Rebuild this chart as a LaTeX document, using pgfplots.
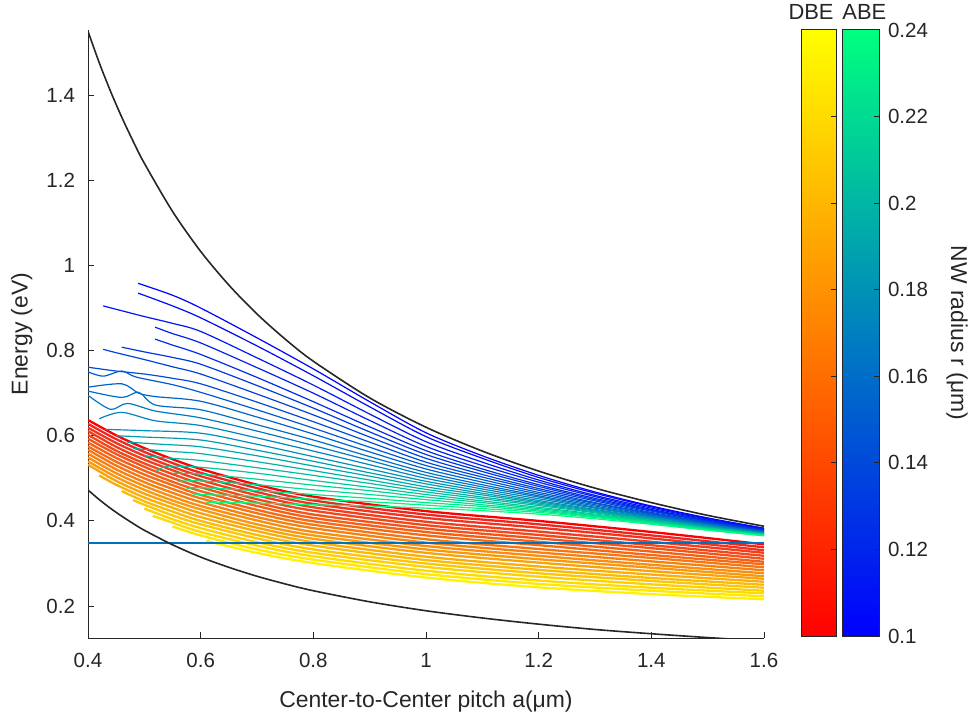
\documentclass[border=0pt]{standalone}
\usepackage{fontspec}
\setmainfont{Liberation Sans}
\usepackage{pgfplots}
\pgfplotsset{compat=1.18}
\definecolor{wA}{rgb}{0,0,1}
\definecolor{wB}{rgb}{0,1,0.5}
\definecolor{mlgray}{rgb}{0.15,0.15,0.15}
\definecolor{refline}{HTML}{0072BD}
\pgfplotsset{
  abe/.style={smooth, line width=0.6pt},
  dbe/.style={smooth, line width=1.15pt},
}
\begin{document}
\begin{tikzpicture}
\path[use as bounding box] (-44bp,-40bp) rectangle (442bp,319bp);
\begin{axis}[
  at={(0,0)}, anchor=south west, scale only axis, width=338bp, height=304bp,
  xmin=0.4, xmax=1.6, ymin=0.125, ymax=1.553,
  axis lines=left, axis line style={-, mlgray, line width=0.5pt},
  tick align=inside, major tick length=3bp, tick style={mlgray, line width=0.5pt},
  xtick={0.4,0.6,0.8,1.0,1.2,1.4,1.6}, ytick={0.2,0.4,0.6,0.8,1.0,1.2,1.4},
  xticklabels={0.4,0.6,0.8,1,1.2,1.4,1.6}, yticklabels={0.2,0.4,0.6,0.8,1,1.2,1.4},
  ticklabel style={font=\fontsize{10.3}{12}\selectfont, text=mlgray},
  xticklabel style={yshift=-4bp}, yticklabel style={xshift=-3bp},
  xlabel={Center-to-Center pitch a(μm)}, ylabel={Energy (eV)},
  label style={font=\fontsize{11.5}{13}\selectfont, text=mlgray},
  xlabel style={at={(axis description cs:0.5,-0.105)}, anchor=center},
  ylabel style={at={(axis description cs:-0.098,0.5)}, anchor=center},
]
% ---------------- DBE (red -> yellow) ----------------
\addplot[dbe, color=yellow!0!red] coordinates {(0.4,0.637)(0.45,0.601)(0.5,0.571)(0.55,0.545)(0.6,0.522)(0.7,0.485)(0.8,0.457)(1.0,0.423)(1.2,0.400)(1.4,0.374)(1.6,0.345)};
\addplot[dbe, color=yellow!5!red] coordinates {(0.4,0.628)(0.45,0.592)(0.5,0.562)(0.55,0.536)(0.6,0.513)(0.7,0.477)(0.8,0.448)(1.0,0.415)(1.2,0.392)(1.4,0.366)(1.6,0.338)};
\addplot[dbe, color=yellow!11!red] coordinates {(0.4,0.619)(0.45,0.583)(0.5,0.553)(0.55,0.527)(0.6,0.505)(0.7,0.468)(0.8,0.440)(1.0,0.407)(1.2,0.384)(1.4,0.359)(1.6,0.331)};
\addplot[dbe, color=yellow!16!red] coordinates {(0.4,0.611)(0.45,0.574)(0.5,0.544)(0.55,0.519)(0.6,0.496)(0.7,0.460)(0.8,0.432)(1.0,0.398)(1.2,0.375)(1.4,0.351)(1.6,0.325)};
\addplot[dbe, color=yellow!21!red] coordinates {(0.4,0.602)(0.45,0.565)(0.5,0.535)(0.55,0.510)(0.6,0.487)(0.7,0.451)(0.8,0.424)(1.0,0.390)(1.2,0.367)(1.4,0.343)(1.6,0.318)};
\addplot[dbe, color=yellow!26!red] coordinates {(0.4,0.593)(0.45,0.557)(0.5,0.527)(0.55,0.501)(0.6,0.479)(0.7,0.443)(0.8,0.415)(1.0,0.382)(1.2,0.359)(1.4,0.336)(1.6,0.311)};
\addplot[dbe, color=yellow!32!red] coordinates {(0.4,0.584)(0.45,0.548)(0.5,0.518)(0.55,0.492)(0.6,0.470)(0.7,0.435)(0.8,0.407)(1.0,0.374)(1.2,0.351)(1.4,0.328)(1.6,0.304)};
\addplot[dbe, color=yellow!37!red] coordinates {(0.4,0.575)(0.45,0.539)(0.5,0.509)(0.55,0.484)(0.6,0.461)(0.7,0.426)(0.8,0.399)(1.0,0.366)(1.2,0.343)(1.4,0.320)(1.6,0.298)};
\addplot[dbe, color=yellow!42!red] coordinates {(0.4,0.567)(0.45,0.530)(0.5,0.500)(0.55,0.475)(0.6,0.453)(0.7,0.418)(0.8,0.391)(1.0,0.357)(1.2,0.334)(1.4,0.313)(1.6,0.291)};
\addplot[dbe, color=yellow!47!red] coordinates {(0.4,0.558)(0.45,0.521)(0.5,0.491)(0.55,0.466)(0.6,0.444)(0.7,0.409)(0.8,0.383)(1.0,0.349)(1.2,0.326)(1.4,0.305)(1.6,0.284)};
\addplot[dbe, color=yellow!53!red] coordinates {(0.4,0.549)(0.45,0.512)(0.5,0.482)(0.55,0.457)(0.6,0.435)(0.7,0.401)(0.8,0.374)(1.0,0.341)(1.2,0.318)(1.4,0.297)(1.6,0.277)};
\addplot[dbe, color=yellow!58!red] coordinates {(0.4,0.540)(0.45,0.503)(0.5,0.473)(0.55,0.448)(0.6,0.427)(0.7,0.392)(0.8,0.366)(1.0,0.333)(1.2,0.310)(1.4,0.290)(1.6,0.270)};
\addplot[dbe, color=yellow!63!red] coordinates {(0.4,0.532)(0.45,0.494)(0.5,0.464)(0.55,0.440)(0.6,0.418)(0.7,0.384)(0.8,0.358)(1.0,0.325)(1.2,0.302)(1.4,0.282)(1.6,0.264)};
\addplot[dbe, color=yellow!68!red] coordinates {(0.42,0.507)(0.45,0.485)(0.5,0.455)(0.55,0.431)(0.6,0.409)(0.7,0.376)(0.8,0.350)(1.0,0.316)(1.2,0.293)(1.4,0.274)(1.6,0.257)};
\addplot[dbe, color=yellow!74!red] coordinates {(0.46,0.470)(0.5,0.446)(0.55,0.422)(0.6,0.400)(0.7,0.367)(0.8,0.342)(1.0,0.308)(1.2,0.285)(1.4,0.266)(1.6,0.250)};
\addplot[dbe, color=yellow!79!red] coordinates {(0.48,0.449)(0.5,0.438)(0.55,0.413)(0.6,0.392)(0.7,0.359)(0.8,0.333)(1.0,0.300)(1.2,0.277)(1.4,0.259)(1.6,0.243)};
\addplot[dbe, color=yellow!84!red] coordinates {(0.5,0.429)(0.55,0.404)(0.6,0.383)(0.7,0.350)(0.8,0.325)(1.0,0.292)(1.2,0.269)(1.4,0.251)(1.6,0.236)};
\addplot[dbe, color=yellow!89!red] coordinates {(0.515,0.412)(0.55,0.396)(0.6,0.374)(0.7,0.342)(0.8,0.317)(1.0,0.283)(1.2,0.260)(1.4,0.243)(1.6,0.230)};
\addplot[dbe, color=yellow!95!red] coordinates {(0.55,0.387)(0.6,0.366)(0.7,0.333)(0.8,0.309)(1.0,0.275)(1.2,0.252)(1.4,0.236)(1.6,0.223)};
\addplot[dbe, color=yellow!100!red] coordinates {(0.61,0.353)(0.7,0.325)(0.8,0.301)(1.0,0.267)(1.2,0.244)(1.4,0.228)(1.6,0.216)};
% ---------------- ABE (blue -> green) ----------------
\addplot[abe, color=wB!0!wA] coordinates {(0.489,0.958)(0.55,0.930)(0.6,0.900)(0.7,0.830)(0.8,0.757)(0.9,0.680)(1.0,0.607)(1.1,0.553)(1.2,0.507)(1.3,0.468)(1.4,0.435)(1.5,0.407)(1.6,0.383)};
\addplot[abe, color=wB!4!wA] coordinates {(0.489,0.935)(0.55,0.905)(0.6,0.877)(0.7,0.811)(0.8,0.741)(0.9,0.668)(1.0,0.598)(1.1,0.547)(1.2,0.502)(1.3,0.465)(1.4,0.433)(1.5,0.406)(1.6,0.382)};
\addplot[abe, color=wB!9!wA] coordinates {(0.427,0.905)(0.45,0.897)(0.5,0.880)(0.55,0.864)(0.6,0.845)(0.7,0.783)(0.8,0.719)(0.9,0.651)(1.0,0.586)(1.1,0.538)(1.2,0.496)(1.3,0.460)(1.4,0.430)(1.5,0.404)(1.6,0.381)};
\addplot[abe, color=wB!13!wA] coordinates {(0.519,0.855)(0.55,0.840)(0.6,0.818)(0.7,0.760)(0.8,0.700)(0.9,0.636)(1.0,0.575)(1.1,0.530)(1.2,0.491)(1.3,0.457)(1.4,0.427)(1.5,0.402)(1.6,0.380)};
\addplot[abe, color=wB!17!wA] coordinates {(0.519,0.827)(0.55,0.813)(0.6,0.791)(0.7,0.737)(0.8,0.680)(0.9,0.621)(1.0,0.565)(1.1,0.522)(1.2,0.485)(1.3,0.453)(1.4,0.425)(1.5,0.400)(1.6,0.379)};
\addplot[abe, color=wB!22!wA] coordinates {(0.46,0.808)(0.5,0.797)(0.55,0.784)(0.6,0.768)(0.7,0.718)(0.8,0.665)(0.9,0.609)(1.0,0.556)(1.1,0.516)(1.2,0.481)(1.3,0.450)(1.4,0.423)(1.5,0.399)(1.6,0.378)};
\addplot[abe, color=wB!26!wA] coordinates {(0.427,0.803)(0.45,0.795)(0.5,0.779)(0.55,0.762)(0.6,0.745)(0.7,0.698)(0.8,0.649)(0.9,0.597)(1.0,0.547)(1.1,0.509)(1.2,0.476)(1.3,0.447)(1.4,0.420)(1.5,0.397)(1.6,0.377)};
\addplot[abe, color=wB!30!wA] coordinates {(0.4,0.761)(0.45,0.752)(0.5,0.745)(0.55,0.735)(0.6,0.722)(0.7,0.679)(0.8,0.633)(0.9,0.585)(1.0,0.538)(1.1,0.503)(1.2,0.472)(1.3,0.443)(1.4,0.418)(1.5,0.396)(1.6,0.376)};
\addplot[abe, color=wB!35!wA] coordinates {(0.4,0.750)(0.427,0.740)(0.46,0.752)(0.485,0.738)(0.55,0.720)(0.6,0.702)(0.7,0.661)(0.8,0.618)(0.9,0.573)(1.0,0.530)(1.1,0.497)(1.2,0.467)(1.3,0.441)(1.4,0.416)(1.5,0.394)(1.6,0.375)};
\addplot[abe, color=wB!39!wA] coordinates {(0.4,0.714)(0.46,0.722)(0.49,0.700)(0.52,0.692)(0.6,0.681)(0.7,0.644)(0.8,0.604)(0.9,0.562)(1.0,0.522)(1.1,0.491)(1.2,0.463)(1.3,0.438)(1.4,0.414)(1.5,0.393)(1.6,0.374)};
\addplot[abe, color=wB!43!wA] coordinates {(0.4,0.705)(0.46,0.690)(0.49,0.702)(0.52,0.672)(0.6,0.661)(0.7,0.626)(0.8,0.590)(0.9,0.551)(1.0,0.514)(1.1,0.485)(1.2,0.459)(1.3,0.435)(1.4,0.412)(1.5,0.392)(1.6,0.374)};
\addplot[abe, color=wB!48!wA] coordinates {(0.4,0.695)(0.44,0.662)(0.47,0.676)(0.52,0.658)(0.6,0.642)(0.7,0.611)(0.8,0.577)(0.9,0.542)(1.0,0.507)(1.1,0.480)(1.2,0.456)(1.3,0.432)(1.4,0.411)(1.5,0.391)(1.6,0.373)};
\addplot[abe, color=wB!52!wA] coordinates {(0.42,0.640)(0.46,0.655)(0.52,0.635)(0.6,0.624)(0.7,0.595)(0.8,0.564)(0.9,0.532)(1.0,0.500)(1.1,0.475)(1.2,0.452)(1.3,0.430)(1.4,0.409)(1.5,0.390)(1.6,0.372)};
\addplot[abe, color=wB!57!wA] coordinates {(0.43,0.615)(0.5,0.612)(0.6,0.606)(0.7,0.580)(0.8,0.551)(0.9,0.522)(1.0,0.493)(1.1,0.470)(1.2,0.448)(1.3,0.427)(1.4,0.407)(1.5,0.388)(1.6,0.371)};
\addplot[abe, color=wB!61!wA] coordinates {(0.45,0.600)(0.5,0.597)(0.6,0.590)(0.7,0.566)(0.8,0.540)(0.9,0.513)(1.0,0.487)(1.1,0.465)(1.2,0.445)(1.3,0.425)(1.4,0.406)(1.5,0.387)(1.6,0.371)};
\addplot[abe, color=wB!65!wA] coordinates {(0.47,0.585)(0.53,0.580)(0.6,0.574)(0.7,0.553)(0.8,0.529)(0.9,0.505)(1.0,0.480)(1.1,0.461)(1.2,0.442)(1.3,0.423)(1.4,0.404)(1.5,0.386)(1.6,0.370)};
\addplot[abe, color=wB!70!wA] coordinates {(0.48,0.570)(0.55,0.563)(0.6,0.558)(0.7,0.539)(0.8,0.518)(0.9,0.496)(1.0,0.474)(1.1,0.456)(1.2,0.439)(1.3,0.421)(1.4,0.403)(1.5,0.385)(1.6,0.370)};
\addplot[abe, color=wB!74!wA] coordinates {(0.5,0.553)(0.55,0.547)(0.6,0.542)(0.7,0.525)(0.8,0.507)(0.9,0.488)(1.0,0.468)(1.1,0.452)(1.2,0.436)(1.3,0.419)(1.4,0.401)(1.5,0.384)(1.6,0.369)};
\addplot[abe, color=wB!78!wA] coordinates {(0.52,0.515)(0.54,0.528)(0.6,0.526)(0.7,0.512)(0.8,0.495)(0.9,0.479)(1.0,0.462)(1.1,0.447)(1.2,0.432)(1.3,0.416)(1.4,0.400)(1.5,0.383)(1.6,0.368)};
\addplot[abe, color=wB!83!wA] coordinates {(0.55,0.512)(0.6,0.510)(0.7,0.498)(0.8,0.484)(0.9,0.471)(1.0,0.456)(1.1,0.443)(1.2,0.429)(1.3,0.414)(1.4,0.398)(1.5,0.382)(1.6,0.368)};
\addplot[abe, color=wB!87!wA] coordinates {(0.56,0.493)(0.6,0.494)(0.7,0.485)(0.8,0.473)(0.9,0.462)(1.0,0.450)(1.1,0.438)(1.2,0.426)(1.3,0.412)(1.4,0.397)(1.5,0.381)(1.6,0.367)};
\addplot[abe, color=wB!91!wA] coordinates {(0.575,0.476)(0.6,0.478)(0.7,0.471)(0.8,0.462)(0.9,0.453)(1.0,0.443)(1.1,0.434)(1.2,0.423)(1.3,0.410)(1.4,0.395)(1.5,0.380)(1.6,0.366)};
\addplot[abe, color=wB!96!wA] coordinates {(0.585,0.464)(0.6,0.462)(0.7,0.458)(0.8,0.451)(0.9,0.445)(1.0,0.437)(1.1,0.429)(1.2,0.420)(1.3,0.408)(1.4,0.394)(1.5,0.379)(1.6,0.366)};
\addplot[abe, color=wB!100!wA] coordinates {(0.61,0.444)(0.7,0.442)(0.8,0.438)(0.9,0.435)(1.0,0.430)(1.1,0.424)(1.2,0.416)(1.3,0.405)(1.4,0.392)(1.5,0.378)(1.6,0.365)};
% horizontal reference line
\addplot[draw=refline, line width=1pt] coordinates {(0.4,0.347)(0.8,0.347)(1.2,0.347)(1.6,0.347)};
% ---------------- bounding curves ----------------
\addplot[smooth, color=mlgray, line width=0.8pt] coordinates {(0.40,1.550)(0.42,1.476)(0.44,1.409)(0.46,1.348)(0.48,1.292)(0.50,1.240)(0.55,1.127)(0.60,1.033)(0.65,0.954)(0.70,0.886)(0.75,0.827)(0.80,0.775)(0.90,0.689)(1.00,0.620)(1.10,0.564)(1.20,0.517)(1.30,0.477)(1.40,0.443)(1.50,0.413)(1.60,0.3875)};
\addplot[smooth, color=mlgray, line width=0.8pt] coordinates {(0.40,0.4725)(0.42,0.450)(0.44,0.4295)(0.46,0.411)(0.48,0.394)(0.50,0.378)(0.55,0.344)(0.60,0.315)(0.65,0.291)(0.70,0.270)(0.75,0.252)(0.80,0.236)(0.90,0.210)(1.00,0.189)(1.10,0.172)(1.20,0.1575)(1.30,0.145)(1.40,0.135)(1.50,0.126)(1.60,0.118)};
\end{axis}
% ---------------- colorbar DBE ----------------
\begin{axis}[
  at={(356.5bp,1bp)}, anchor=south west, scale only axis, width=17.5bp, height=303bp,
  xmin=0, xmax=1, ymin=0.1, ymax=0.24, axis on top,
  xtick=\empty, ytick={0.1,0.12,0.14,0.16,0.18,0.2,0.22,0.24}, yticklabels={},
  ytick pos=right, tick align=inside, major tick length=2.5bp,
  tick style={mlgray, line width=0.5pt}, axis line style={mlgray, line width=0.5pt},
  every axis title shift=0pt,
  title={DBE}, title style={font=\fontsize{11}{13}\selectfont, text=mlgray,
    at={(axis description cs:1,1)}, anchor=base east, xshift=-1bp, yshift=5bp, inner sep=0pt},
]
\shade[bottom color=red, top color=yellow] (axis cs:0,0.1) rectangle (axis cs:1,0.24);
\end{axis}
% ---------------- colorbar ABE ----------------
\begin{axis}[
  at={(377bp,1bp)}, anchor=south west, scale only axis, width=18.5bp, height=303bp,
  xmin=0, xmax=1, ymin=0.1, ymax=0.24, axis on top,
  xtick=\empty, ytick={0.1,0.12,0.14,0.16,0.18,0.2,0.22,0.24},
  yticklabels={0.1,0.12,0.14,0.16,0.18,0.2,0.22,0.24},
  ytick pos=right, yticklabel pos=right, tick align=inside, major tick length=2.5bp,
  tick style={mlgray, line width=0.5pt}, axis line style={mlgray, line width=0.5pt},
  ticklabel style={font=\fontsize{10.3}{12}\selectfont, text=mlgray},
  yticklabel style={xshift=1bp},
  every axis title shift=0pt,
  title={ABE}, title style={font=\fontsize{11}{13}\selectfont, text=mlgray,
    at={(axis description cs:0,1)}, anchor=base west, yshift=5bp, inner sep=0pt},
  ylabel={NW radius r (μm)},
  ylabel style={font=\fontsize{11.5}{13}\selectfont, text=mlgray, at={(axis description cs:3.11,0.5)}, anchor=center, rotate=180},
]
\shade[bottom color=wA, top color=wB] (axis cs:0,0.1) rectangle (axis cs:1,0.24);
\end{axis}
\end{tikzpicture}
\end{document}
